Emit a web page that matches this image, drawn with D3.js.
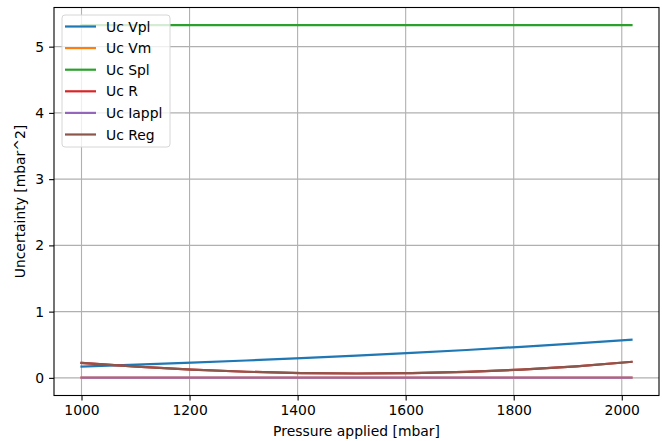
<!DOCTYPE html>
<html>
<head>
<meta charset="utf-8">
<script src="https://cdn.jsdelivr.net/npm/d3@7"></script>
<style>
  body { margin: 0; background: #fff; }
  svg { display: block; font-family: "DejaVu Sans", sans-serif; }
</style>
</head>
<body>
<div id="chart"></div>
<script>
// pressure applied [mbar]
var pressure = [1000, 1102, 1204, 1305, 1407, 1509, 1611, 1713, 1814, 1916, 2018];

// uncertainty contributions [mbar^2]
var ucVpl   = [0.170, 0.200, 0.230, 0.262, 0.297, 0.335, 0.376, 0.421, 0.469, 0.521, 0.577];
var ucVm    = [0.003, 0.003, 0.003, 0.003, 0.003, 0.003, 0.003, 0.003, 0.003, 0.003, 0.003];
var ucSpl   = [5.325, 5.325, 5.325, 5.325, 5.325, 5.325, 5.325, 5.325, 5.325, 5.325, 5.325];
var ucR     = [0.226, 0.170, 0.125, 0.092, 0.073, 0.066, 0.072, 0.091, 0.124, 0.174, 0.242];
var ucIappl = [0.003, 0.003, 0.003, 0.003, 0.003, 0.003, 0.003, 0.003, 0.003, 0.003, 0.003];
var ucReg   = [0.226, 0.170, 0.125, 0.092, 0.073, 0.066, 0.072, 0.091, 0.124, 0.174, 0.242];

var seriesNames = ["Uc Vpl", "Uc Vm", "Uc Spl", "Uc R", "Uc Iappl", "Uc Reg"];
var seriesVals = [ucVpl, ucVm, ucSpl, ucR, ucIappl, ucReg];
var colors = ["#1f77b4", "#ff7f0e", "#2ca02c", "#d62728", "#9467bd", "#8c564b"];

var xTicks = [1000, 1200, 1400, 1600, 1800, 2000];
var yTicks = [0, 1, 2, 3, 4, 5];

var width = 662, height = 441;
var margin = {left: 54, right: 3, top: 7.5, bottom: 45.5};
var plotW = width - margin.left - margin.right;
var plotH = height - margin.top - margin.bottom;
var fs = "13.9px";

// matplotlib style 5% margins around the data
var xExt = d3.extent(pressure);
var allY = d3.merge(seriesVals);
var yExt = [0, d3.max(allY)];
var xPad = (xExt[1] - xExt[0]) * 0.05;
var yPad = (yExt[1] - yExt[0]) * 0.05;

var x = d3.scaleLinear().domain([xExt[0] - xPad, xExt[1] + xPad]).range([0, plotW]);
var y = d3.scaleLinear().domain([yExt[0] - yPad, yExt[1] + yPad]).range([plotH, 0]);

var svg = d3.select("#chart").append("svg")
  .attr("width", width)
  .attr("height", height);

var g = svg.append("g")
  .attr("transform", "translate(" + margin.left + "," + margin.top + ")");

// grid
g.append("g").selectAll("line").data(xTicks).enter().append("line")
  .attr("x1", function(d) { return x(d); })
  .attr("x2", function(d) { return x(d); })
  .attr("y1", 0).attr("y2", plotH)
  .style("stroke", "#b0b0b0").style("stroke-width", 1.1);
g.append("g").selectAll("line").data(yTicks).enter().append("line")
  .attr("y1", function(d) { return y(d); })
  .attr("y2", function(d) { return y(d); })
  .attr("x1", 0).attr("x2", plotW)
  .style("stroke", "#b0b0b0").style("stroke-width", 1.1);

// lines
var line = d3.line()
  .x(function(d, i) { return x(pressure[i]); })
  .y(function(d) { return y(d); });

g.append("g").selectAll("path").data(seriesVals).enter().append("path")
  .attr("d", line)
  .style("fill", "none")
  .style("stroke", function(d, i) { return colors[i]; })
  .style("stroke-width", 2.2)
  .style("stroke-linecap", "square");

// axes
var xAxis = d3.axisBottom(x).tickValues(xTicks).tickFormat(d3.format("d")).tickSize(4.9).tickPadding(4.9);
var yAxis = d3.axisLeft(y).tickValues(yTicks).tickFormat(d3.format("d")).tickSize(4.9).tickPadding(4.9);

var gx = g.append("g").attr("transform", "translate(0," + plotH + ")").call(xAxis);
var gy = g.append("g").call(yAxis);
[gx, gy].forEach(function(a) {
  a.select(".domain").remove();
  a.selectAll("line").style("stroke", "#000").style("stroke-width", 1.1);
  a.selectAll("text").style("font-size", fs).style("fill", "#000")
    .style("font-family", "DejaVu Sans, sans-serif");
});

// frame
g.append("rect")
  .attr("width", plotW).attr("height", plotH)
  .style("fill", "none").style("stroke", "#000").style("stroke-width", 1.1);

// axis labels
svg.append("text")
  .attr("x", margin.left + plotW / 2)
  .attr("y", 436)
  .attr("text-anchor", "middle")
  .style("font-size", fs)
  .text("Pressure applied [mbar]");

svg.append("text")
  .attr("transform", "translate(25," + (margin.top + plotH / 2) + ") rotate(-90)")
  .attr("text-anchor", "middle")
  .style("font-size", fs)
  .text("Uncertainty [mbar^2]");

// legend
var legend = svg.append("g").attr("transform", "translate(62,15)");
legend.append("rect")
  .attr("width", 108).attr("height", 132)
  .attr("rx", 3).attr("ry", 3)
  .style("fill", "#fff").style("fill-opacity", 0.8)
  .style("stroke", "#d6d6d6").style("stroke-width", 1);

var item = legend.selectAll(".item").data(seriesNames).enter().append("g")
  .attr("class", "item")
  .attr("transform", function(d, i) { return "translate(0," + (11.5 + i * 21.6) + ")"; });
item.append("line")
  .attr("x1", 3).attr("x2", 34)
  .style("stroke", function(d, i) { return colors[i]; })
  .style("stroke-width", 2.2);
item.append("text")
  .attr("x", 44).attr("y", 5)
  .style("font-size", fs)
  .text(function(d) { return d; });
</script>
</body>
</html>
